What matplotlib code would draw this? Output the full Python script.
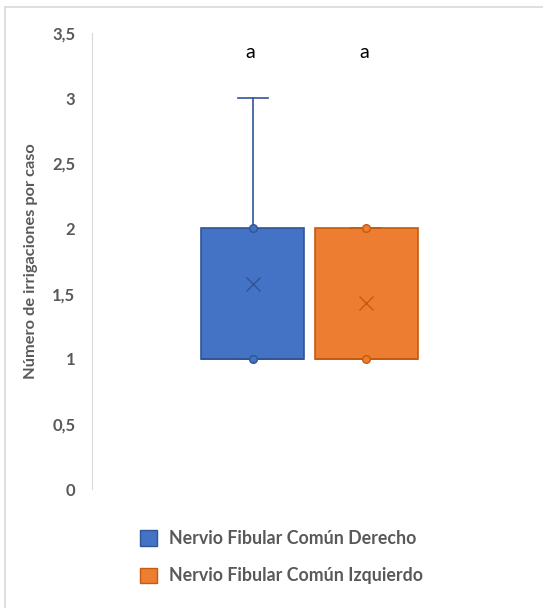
import matplotlib.pyplot as plt
from matplotlib.lines import Line2D
from matplotlib.patches import Patch

# Box statistics
series = ['Nervio Fibular Común Derecho', 'Nervio Fibular Común Izquierdo']
q1 = [1, 1]
median = [1, 1]
q3 = [2, 2]
whisker_low = [1, 1]
whisker_high = [3, 2]
means = [1.57, 1.43]
inner_points = [[1, 2], [1, 2]]
letters = ['a', 'a']

fills = ['#4472C4', '#ED7D31']
edges = ['#2F5597', '#C55A11']
positions = [0.369, 0.631]

plt.rcParams['font.family'] = ['Lato', 'DejaVu Sans']

fig = plt.figure(figsize=(5.43, 6.08), dpi=100)
ax = fig.add_axes([92 / 543, 1 - 489 / 608, 435 / 543, 456 / 608])

for i in range(len(series)):
    stats = [dict(q1=q1[i], med=median[i], q3=q3[i], whislo=whisker_low[i],
                  whishi=whisker_high[i], mean=means[i], fliers=[])]
    ax.bxp(stats, positions=[positions[i]], widths=0.237, capwidths=0.069,
           patch_artist=True, showmeans=True,
           boxprops=dict(facecolor=fills[i], edgecolor=edges[i], linewidth=1.2),
           whiskerprops=dict(color=edges[i], linewidth=1.2),
           capprops=dict(color=edges[i], linewidth=1.2),
           medianprops=dict(color=edges[i], linewidth=1.2),
           meanprops=dict(marker='x', markeredgecolor=edges[i], markersize=10,
                          markeredgewidth=1.0))
    ax.plot([positions[i]] * len(inner_points[i]), inner_points[i], 'o',
            color=fills[i], markeredgecolor=edges[i], markersize=5.5,
            markeredgewidth=1.0, zorder=5)
    ax.text(positions[i] - 0.005, 3.35, letters[i], ha='center', va='center',
            fontsize=14, color='black')

ax.set_xlim(0, 1)
ax.set_ylim(0, 3.5)
ax.set_yticks([0, 0.5, 1, 1.5, 2, 2.5, 3, 3.5])
ax.set_yticklabels(['0', '0,5', '1', '1,5', '2', '2,5', '3', '3,5'],
                   fontweight='bold', fontsize=12, color='#595959')
ax.tick_params(axis='y', length=0, pad=12)
ax.set_xticks([])
for s in ['top', 'right', 'bottom']:
    ax.spines[s].set_visible(False)
ax.spines['left'].set_color('#D9D9D9')
ax.set_ylabel('Número de irrigaciones por caso', fontsize=11.8,
              fontweight='bold', color='#595959', labelpad=10)

handles = [Patch(facecolor=fills[i], edgecolor=edges[i], label=series[i])
           for i in range(len(series))]
fig.legend(handles=handles, loc='upper left', bbox_to_anchor=(124 / 543, 1 - 514 / 608),
           frameon=False, ncol=1, handlelength=0.95, handleheight=0.95,
           handletextpad=0.7, labelspacing=1.15, prop=dict(weight='bold', size=12.8),
           labelcolor='#595959')

# chart area border (top and left visible)
fig.add_artist(Line2D([5 / 543, 1], [1 - 7 / 608, 1 - 7 / 608], color='#D9D9D9',
                      linewidth=1.2, transform=fig.transFigure))
fig.add_artist(Line2D([5 / 543, 5 / 543], [0, 1 - 7 / 608], color='#D9D9D9',
                      linewidth=1.2, transform=fig.transFigure))

fig.savefig('out.png', dpi=100)
